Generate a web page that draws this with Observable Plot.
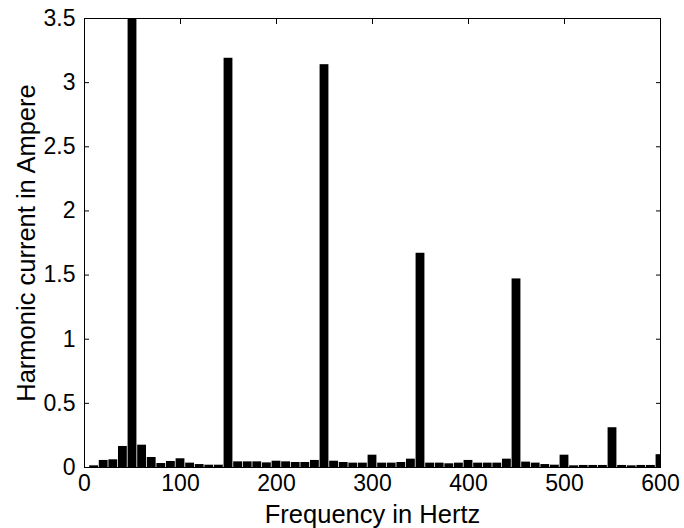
<!DOCTYPE html>
<html>
<head>
<meta charset="utf-8">
<script src="https://cdn.jsdelivr.net/npm/d3@7"></script>
<script src="https://cdn.jsdelivr.net/npm/@observablehq/plot@0.6"></script>
<style>
  html, body { margin: 0; padding: 0; background: #fff; }
  #chart svg { display: block; }
</style>
</head>
<body>
<div id="chart"></div>
<script>
const frequencies = [10, 20, 30, 40, 50, 60, 70, 80, 90, 100,
  110, 120, 130, 140, 150, 160, 170, 180, 190, 200,
  210, 220, 230, 240, 250, 260, 270, 280, 290, 300,
  310, 320, 330, 340, 350, 360, 370, 380, 390, 400,
  410, 420, 430, 440, 450, 460, 470, 480, 490, 500,
  510, 520, 530, 540, 550, 560, 570, 580, 590, 600];
const currents = [0.013, 0.055, 0.06, 0.164, 3.5, 0.174, 0.078, 0.031, 0.047, 0.068,
  0.034, 0.023, 0.018, 0.018, 3.19, 0.044, 0.044, 0.044, 0.036, 0.049,
  0.044, 0.039, 0.039, 0.055, 3.14, 0.049, 0.039, 0.034, 0.034, 0.096,
  0.034, 0.034, 0.039, 0.065, 1.67, 0.034, 0.034, 0.029, 0.034, 0.055,
  0.034, 0.034, 0.034, 0.065, 1.47, 0.042, 0.034, 0.023, 0.018, 0.096,
  0.013, 0.016, 0.016, 0.016, 0.31, 0.016, 0.013, 0.016, 0.016, 0.1];
const xTicks = [0, 100, 200, 300, 400, 500, 600];
const yTicks = [0, 0.5, 1, 1.5, 2, 2.5, 3, 3.5];
const xLabel = "Frequency in Hertz";
const yLabel = "Harmonic current in Ampere";

const data = frequencies.map((f, i) => ({f, v: currents[i]}));
const halfWidth = 4.6; // half of bar width in Hz
const noText = () => "";

const chart = Plot.plot({
  width: 684,
  height: 528,
  marginLeft: 84,
  marginRight: 24,
  marginTop: 18,
  marginBottom: 61,
  style: {fontFamily: "'Liberation Sans', Arial, sans-serif", color: "#000", background: "#fff"},
  x: {domain: [0, 600]},
  y: {domain: [0, 3.5]},
  marks: [
    Plot.rectY(data, {x1: d => d.f - halfWidth, x2: d => d.f + halfWidth, y: "v", fill: "#000", clip: true}),
    Plot.frame({stroke: "#000", strokeWidth: 1}),
    Plot.axisX({ticks: xTicks, tickSize: -5, tickPadding: 12, fontSize: 23, tickFormat: d => String(d), label: null}),
    Plot.axisX({anchor: "top", ticks: xTicks, tickSize: -5, tickFormat: noText, label: null}),
    Plot.axisY({ticks: yTicks, tickSize: -5, tickPadding: 14, fontSize: 23, tickFormat: d => String(d), label: null}),
    Plot.axisY({anchor: "right", ticks: yTicks, tickSize: -5, tickFormat: noText, label: null}),
    Plot.text([xLabel], {frameAnchor: "bottom", text: d => d, dy: 47, fontSize: 25.5, lineAnchor: "middle"}),
    Plot.text([yLabel], {frameAnchor: "left", text: d => d, dx: -58, rotate: -90, fontSize: 25.5, textAnchor: "middle", lineAnchor: "middle"})
  ]
});
document.getElementById("chart").appendChild(chart);
</script>
</body>
</html>
